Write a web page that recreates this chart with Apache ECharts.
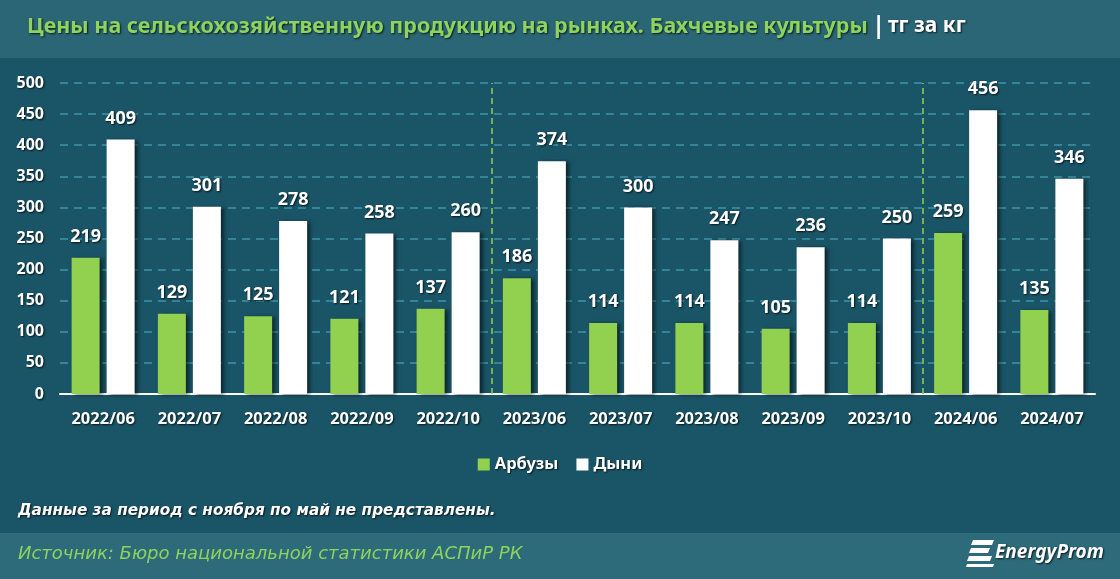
<!DOCTYPE html>
<html><head><meta charset="utf-8">
<script src="https://cdn.jsdelivr.net/npm/echarts@6/dist/echarts.min.js"></script>
<style>html,body{margin:0;padding:0;background:#1a5567;}#c{width:1120px;height:579px;}</style>
</head><body><div id="c"></div>
<script>
const categories = ['2022/06','2022/07','2022/08','2022/09','2022/10','2023/06','2023/07','2023/08','2023/09','2023/10','2024/06','2024/07'];
const watermelons = [219,129,125,121,137,186,114,114,105,114,259,135];
const melons = [409,301,278,258,260,374,300,247,236,250,456,346];
const yearBreaks = [5, 10];
const seriesNames = ['Арбузы','Дыни'];

const chart = echarts.init(document.getElementById('c'), null, {renderer:'canvas'});
const txtShadow = {textShadowColor:'rgba(0,0,0,0.75)', textShadowBlur:2, textShadowOffsetX:1, textShadowOffsetY:1};
const barShadow = {shadowColor:'rgba(0,0,0,0.55)', shadowBlur:4, shadowOffsetX:3, shadowOffsetY:1};
const font = '"Noto Sans", "Open Sans", sans-serif';
const wide = '"DejaVu Sans", sans-serif';

chart.setOption({
  backgroundColor:'#1a5567',
  textStyle:{fontFamily:font},
  graphic:[
    {type:'rect', left:0, top:0, shape:{width:1120, height:58}, style:{fill:'#2a6676'}, z:-1},
    {type:'rect', left:0, top:533, shape:{width:1120, height:46}, style:{fill:'#2d6b7a'}, z:-1},
    {type:'text', left:27, top:16, style:{text:'Цены на сельскохозяйственную продукцию на рынках. Бахчевые культуры', fill:'#8fd35f', font:'bold 21.5px '+font, ...txtShadow}},
    {type:'text', left:872, top:14, style:{text:'|', fill:'#ffffff', font:'bold 24px '+font}},
    {type:'text', left:888, top:16, style:{text:'тг за кг', fill:'#ffffff', font:'bold 21px '+font, ...txtShadow}},
    {type:'text', left:18, top:504, style:{text:'Данные за период с ноября по май не представлены.', fill:'#ffffff', font:'italic bold 15.3px '+wide, ...txtShadow}},
    {type:'text', left:18, top:545, style:{text:'Источник: Бюро национальной статистики АСПиР РК', fill:'#8fd35f', font:'italic 18px '+wide}},
    {type:'group', left:966, top:540, children:[
      {type:'polygon', shape:{points:[[5,0],[26,0],[24,5],[3,5]]}, style:{fill:'#ffffff'}},
      {type:'polygon', shape:{points:[[3,8],[22,8],[20,13],[1,13]]}, style:{fill:'#ffffff'}},
      {type:'polygon', shape:{points:[[1,16],[24,16],[22,21],[-1,21]]}, style:{fill:'#ffffff'}},
      {type:'polygon', shape:{points:[[-1,24],[26,24],[25,27],[-2,27]]}, style:{fill:'#ffffff'}}
    ]},
    {type:'text', left:995, top:543, style:{text:'EnergyProm', fill:'#ffffff', font:'italic bold 19px '+font, ...txtShadow}}
  ],
  legend:{
    data:seriesNames, bottom:101, left:'center', itemWidth:12, itemHeight:12, itemGap:18,
    icon:'rect',
    textStyle:{color:'#ffffff', fontSize:16.5, fontWeight:'bold', fontFamily:font, ...txtShadow}
  },
  grid:{left:60, right:25, top:83, bottom:185, containLabel:false},
  xAxis:[
    {type:'category', data:categories,
     axisLine:{lineStyle:{color:'#ffffff', width:2}}, axisTick:{show:false},
     axisLabel:{color:'#ffffff', fontSize:16.5, fontWeight:'bold', margin:17, fontFamily:font, ...txtShadow}},
    {type:'value', min:0, max:categories.length, show:false}
  ],
  yAxis:{type:'value', min:0, max:500, interval:50,
    axisLine:{show:false}, axisTick:{show:false},
    axisLabel:{color:'#ffffff', fontSize:16, fontWeight:'bold', margin:16, fontFamily:font, ...txtShadow},
    splitLine:{lineStyle:{color:'#3d97aa', type:[8,6], width:1.5}}},
  series:[
    {name:seriesNames[0], type:'bar', data:watermelons, barWidth:28, barGap:'25%',
     itemStyle:{color:'#92d050', ...barShadow},
     label:{show:true, position:'top', distance:12, color:'#ffffff', fontSize:18, fontWeight:'bold', fontFamily:font, ...txtShadow}},
    {name:seriesNames[1], type:'bar', data:melons, barWidth:28,
     itemStyle:{color:'#ffffff', ...barShadow},
     label:{show:true, position:'top', distance:12, color:'#ffffff', fontSize:18, fontWeight:'bold', fontFamily:font, ...txtShadow}},
    {type:'line', xAxisIndex:1, data:[], silent:true,
     markLine:{symbol:'none', silent:true, label:{show:false},
       lineStyle:{color:'#92d050', type:[6,4], width:1.5},
       data:yearBreaks.map(v=>({xAxis:v}))}}
  ]
});
</script></body></html>
